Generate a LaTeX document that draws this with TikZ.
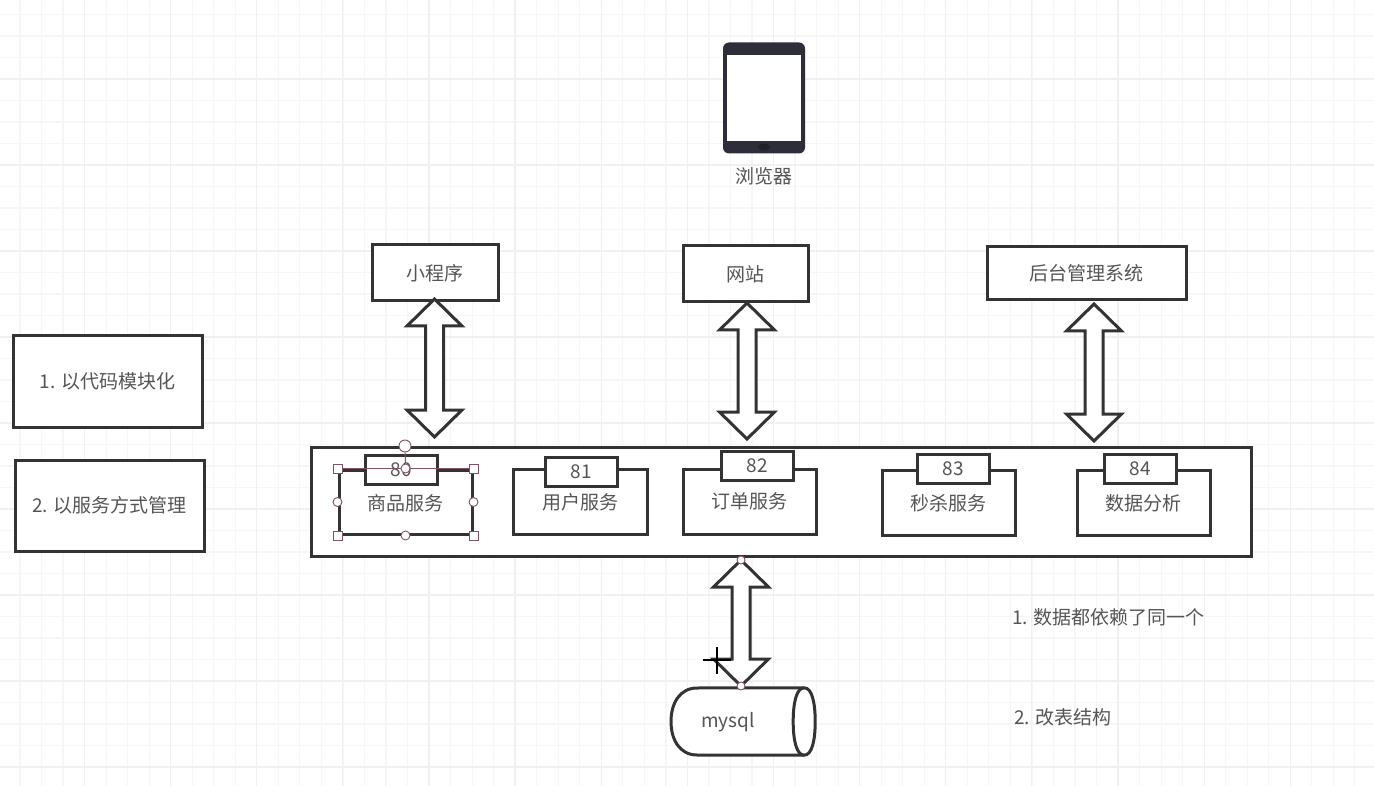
\documentclass[tikz,border=0pt]{standalone}
\usepackage{fontspec}
\setmainfont{Noto Sans CJK SC}
\usepackage{tikz}
\usetikzlibrary{calc}

\definecolor{inkline}{HTML}{333333}
\definecolor{inktext}{HTML}{555555}
\definecolor{gridminor}{HTML}{F6F6F6}
\definecolor{gridmajor}{HTML}{F0F0F0}
\definecolor{tabletbody}{HTML}{2E2E3A}
\definecolor{handleline}{HTML}{84525F}

\tikzset{
    labeltext/.style={text=inktext, font=\fontsize{19}{21}\selectfont, inner sep=0pt},
    box/.style={draw=inkline, fill=white, line width=3pt, labeltext},
    blockline/.style={draw=inkline, fill=white, line width=3pt, line join=miter},
    handlesq/.style={draw=handleline, fill=white, line width=0.9pt, minimum size=9pt, inner sep=0pt},
    handlecirc/.style={draw=handleline, fill=white, line width=0.9pt, circle, minimum size=9pt, inner sep=0pt}
}

% block arrow with two heads, from top point to bottom point
\newcommand{\blockarrow}[2]{
    \draw[blockline] let \p1=(#1), \p2=(#2) in
        (\x1,\y1) -- (\x1+27.5pt,\y1-27pt) -- (\x1+9pt,\y1-27pt) -- (\x1+9pt,\y2+27pt)
        -- (\x1+27.5pt,\y2+27pt) -- (\x1,\y2) -- (\x1-27.5pt,\y2+27pt) -- (\x1-9pt,\y2+27pt)
        -- (\x1-9pt,\y1-27pt) -- (\x1-27.5pt,\y1-27pt) -- cycle;
}

\begin{document}
\begin{tikzpicture}[x=1pt, y=-1pt]
    \useasboundingbox (0,0) rectangle (1374,786);
    \fill[white] (0,0) rectangle (1374,786);

    % Grid
    \foreach \i in {0,...,63} {
        \draw[gridminor, line width=1.2pt] ({20+21.53*\i},0) -- ({20+21.53*\i},786);
    }
    \foreach \j in {0,...,36} {
        \draw[gridminor, line width=1.2pt] (0,{14.5+21.5*\j}) -- (1374,{14.5+21.5*\j});
    }
    \foreach \i in {0,...,15} {
        \draw[gridmajor, line width=1.2pt] ({84.4+86.13*\i},0) -- ({84.4+86.13*\i},786);
    }
    \foreach \j in {0,...,8} {
        \draw[gridmajor, line width=1.2pt] (0,{79+86*\j}) -- (1374,{79+86*\j});
    }

    % Tablet
    \node[fill=tabletbody, rounded corners=6pt, minimum width=82pt, minimum height=111pt, inner sep=0pt] (tablet) at (764,98) {};
    \node[fill=white, minimum width=74pt, minimum height=86pt, inner sep=0pt] (screen) at (764,98) {};
    \fill[black!30!tabletbody] (764,147) ellipse (6pt and 3.5pt);
    \node[labeltext] (browser) at (764,176) {浏览器};

    % Clients
    \node[box, minimum width=126pt, minimum height=56pt] (miniapp) at (435,273) {小程序};
    \node[box, minimum width=125pt, minimum height=56pt] (website) at (745.5,274) {网站};
    \node[box, minimum width=199pt, minimum height=53pt] (backend) at (1086.5,273.5) {后台管理系统};

    % Notes on the left
    \node[box, minimum width=189pt, minimum height=91pt] (noteone) at (107.5,381.5) {1. 以代码模块化};
    \node[box, minimum width=189pt, minimum height=91pt] (notetwo) at (109.5,505.5) {2. 以服务方式管理};

    % Services
    \node[box, minimum width=940pt, minimum height=109pt] (bus) at (781,501.5) {};
    \node[box, minimum width=133pt, minimum height=64pt] (goods) at (405.5,502) {};
    \node[labeltext] (goodstext) at (405,503.5) {商品服务};
    \node[box, minimum width=134pt, minimum height=65pt] (user) at (580,501.5) {};
    \node[labeltext] (usertext) at (580,502.5) {用户服务};
    \node[box, minimum width=133pt, minimum height=65pt] (order) at (749.5,501.5) {};
    \node[labeltext] (ordertext) at (749,501.5) {订单服务};
    \node[box, minimum width=133pt, minimum height=65pt] (seckill) at (948.5,502.5) {};
    \node[labeltext] (seckilltext) at (948,503.5) {秒杀服务};
    \node[box, minimum width=133pt, minimum height=65pt] (analysis) at (1143.5,502.5) {};
    \node[labeltext] (analysistext) at (1143,503.5) {数据分析};

    % Ports
    \node[box, minimum width=72pt, minimum height=29pt] (porta) at (401,469.5) {80};
    \node[box, minimum width=72pt, minimum height=29pt] (portb) at (581,471.5) {81};
    \node[box, minimum width=72pt, minimum height=29pt] (portc) at (757,465.5) {82};
    \node[box, minimum width=72pt, minimum height=29pt] (portd) at (953,468.5) {83};
    \node[box, minimum width=72pt, minimum height=29pt] (porte) at (1140,468.5) {84};

    % Selection handles
    \draw[handleline, line width=0.7pt] (goods.north west) -- (goods.north east);
    \node[handlecirc, minimum size=12pt] (rotate) at (405,446) {};
    \node[handlecirc] (hn) at (goods.north) {};
    \draw[handleline, line width=1pt] (rotate) -- (hn);
    \node[handlesq] (hnw) at (goods.north west) {};
    \node[handlesq] (hne) at (goods.north east) {};
    \node[handlesq] (hsw) at (goods.south west) {};
    \node[handlesq] (hse) at (goods.south east) {};
    \node[handlecirc] (hw) at (goods.west) {};
    \node[handlecirc] (he) at (goods.east) {};
    \node[handlecirc] (hs) at (goods.south) {};

    % Database
    \node[labeltext, minimum width=144pt, minimum height=67pt] (mysql) at (743,721.5) {};
    \draw[blockline] (mysql.north east) ++(-11,0) -- (697,688) .. controls (680,688) and (671,703) .. (671,721.5)
        .. controls (671,740) and (680,755) .. (697,755) -- ($(mysql.south east)+(-11,0)$)
        .. controls ($(mysql.south east)+(-3,0)$) and ($(mysql.east)+(0,18)$) .. (mysql.east)
        .. controls ($(mysql.east)+(0,-18)$) and ($(mysql.north east)+(-3,0)$) .. ($(mysql.north east)+(-11,0)$);
    \draw[inkline, line width=3pt] ($(mysql.north east)+(-11,0)$)
        .. controls ($(mysql.north east)+(-19,0)$) and ($(mysql.east)+(-22,-18)$) .. ($(mysql.east)+(-22,0)$)
        .. controls ($(mysql.east)+(-22,18)$) and ($(mysql.south east)+(-19,0)$) .. ($(mysql.south east)+(-11,0)$);
    \node[labeltext] (mysqltext) at (728,722) {mysql};

    % Block arrows
    \coordinate (miniappend) at (434.5,299);
    \coordinate (busa) at (434.5,437);
    \coordinate (websiteend) at (747,303);
    \coordinate (busb) at (747,439);
    \coordinate (backendend) at (1094,304);
    \coordinate (busc) at (1094,441);
    \coordinate (busd) at (741,560);
    \coordinate (mysqlend) at (741,686);
    \blockarrow{miniappend}{busa}
    \blockarrow{websiteend}{busb}
    \blockarrow{backendend}{busc}
    \blockarrow{busd}{mysqlend}
    \node[handlecirc, minimum size=8pt] (htop) at (busd) {};
    \node[handlecirc, minimum size=8pt] (hbottom) at (mysqlend) {};

    % Cursor
    \draw[black, line width=2.2pt] (703,660) -- (731,660);
    \draw[black, line width=2.2pt] (717,647) -- (717,674);

    % Notes on the right
    \node[labeltext, anchor=west] (noteright) at (1012,617.5) {1. 数据都依赖了同一个};
    \node[labeltext, anchor=west] (noterightb) at (1014,717.5) {2. 改表结构};
\end{tikzpicture}
\end{document}
